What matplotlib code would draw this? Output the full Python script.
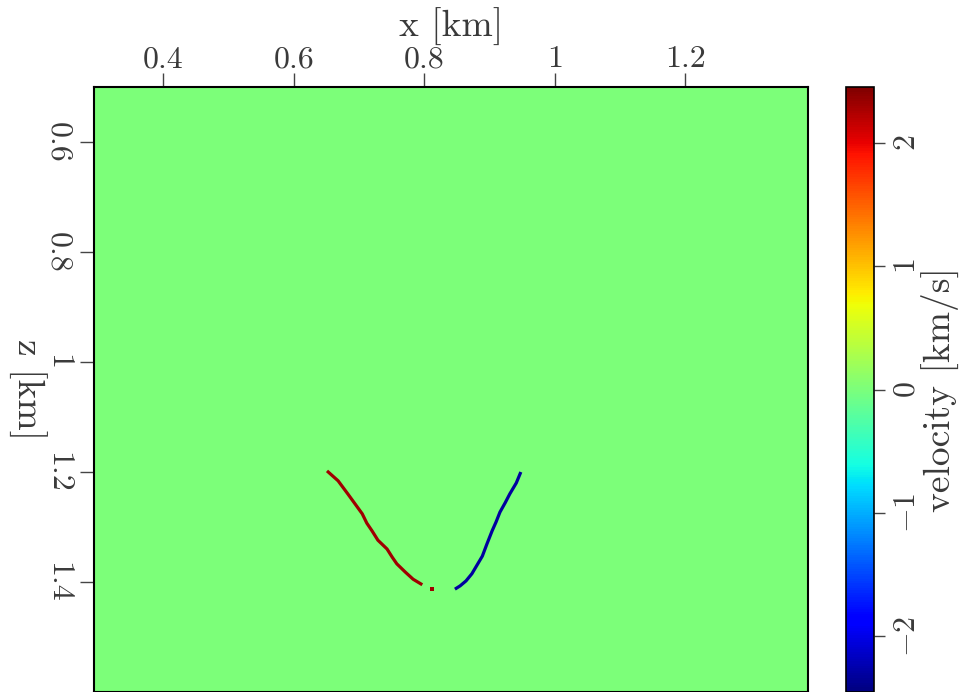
import numpy as np
import matplotlib
matplotlib.use("Agg")
import matplotlib.pyplot as plt
from matplotlib.colors import Normalize

# ── Data ────────────────────────────────────────────────────
x_range = [0.294, 1.388]        # km
z_range = [0.5, 1.6]            # km
background = np.zeros((4, 4))   # velocity perturbation away from the picks
v_lim = 2.45

# left branch (positive)
red_x = [0.651, 0.668, 0.683, 0.694, 0.705, 0.712, 0.720, 0.729, 0.743,
         0.751, 0.758, 0.771, 0.783, 0.797]
red_z = [1.198, 1.216, 1.240, 1.258, 1.276, 1.293, 1.307, 1.324, 1.340,
         1.355, 1.367, 1.382, 1.395, 1.405]
red_v = 2.3
red_end = (0.812, 1.413)

# right branch (negative)
blue_x = [0.948, 0.941, 0.931, 0.924, 0.916, 0.910, 0.904, 0.896, 0.889,
          0.881, 0.873, 0.864, 0.855, 0.847]
blue_z = [1.200, 1.220, 1.240, 1.256, 1.273, 1.291, 1.307, 1.331, 1.353,
          1.369, 1.385, 1.398, 1.407, 1.413]
blue_v = -2.3

x_ticks = [0.4, 0.6, 0.8, 1.0, 1.2]
z_ticks = [0.6, 0.8, 1.0, 1.2, 1.4]
cb_ticks = [-2, -1, 0, 1, 2]

# ── Style ───────────────────────────────────────────────────
plt.rcParams['font.family'] = 'serif'
plt.rcParams['font.serif'] = ['cmr10', 'DejaVu Serif']
plt.rcParams['mathtext.fontset'] = 'cm'
plt.rcParams['axes.formatter.use_mathtext'] = True
plt.rcParams['axes.unicode_minus'] = True

TXT = '#3a3a3a'
TICK_FS = 23
LAB_FS = 27

W, H = 960, 692
ax_l, ax_r, ax_t = 94, 808, 87
fig = plt.figure(figsize=(W / 100, H / 100), dpi=100)
ax = fig.add_axes([ax_l / W, 0.0, (ax_r - ax_l) / W, 1 - ax_t / H])
cax = fig.add_axes([846 / W, 0.0, (874 - 846) / W, 1 - ax_t / H])
ax_w, ax_h = ax_r - ax_l, H - ax_t

cmap = plt.get_cmap('jet')
norm = Normalize(-v_lim, v_lim)

im = ax.imshow(background, cmap=cmap, norm=norm, aspect='auto',
               extent=[x_range[0], x_range[1], z_range[1], z_range[0]])

ax.plot(red_x, red_z, color=cmap(norm(red_v)), lw=2.3,
        solid_capstyle='butt')
ax.plot(*red_end, 's', color=cmap(norm(red_v)), ms=3.2, mew=0)
ax.plot(blue_x, blue_z, color=cmap(norm(blue_v)), lw=2.3,
        solid_capstyle='butt')

ax.set_xlim(*x_range)
ax.set_ylim(z_range[1], z_range[0])

ax.xaxis.set_ticks_position('top')
ax.xaxis.set_label_position('top')
ax.set_xticks(x_ticks)
ax.set_xticklabels(['0.4', '0.6', '0.8', '1', '1.2'])
ax.set_yticks(z_ticks)
ax.set_yticklabels(['0.6', '0.8', '1', '1.2', '1.4'], rotation=-90,
                   va='center')
ax.tick_params(axis='both', labelsize=TICK_FS, length=10, width=1,
               color='#444444', labelcolor=TXT)
ax.tick_params(axis='x', pad=0)
ax.tick_params(axis='y', pad=6)

ax.set_xlabel('x [km]', fontsize=LAB_FS, color=TXT, va='center')
ax.xaxis.set_label_coords(0.5, 1 + (ax_t - 27) / ax_h)
ax.set_ylabel('z [km]', fontsize=LAB_FS, color=TXT, rotation=-90,
              va='center', ha='center')
ax.yaxis.set_label_coords((27 - ax_l) / ax_w, 0.5)
for s in ax.spines.values():
    s.set_linewidth(1.5)

cb = fig.colorbar(im, cax=cax, ticks=cb_ticks)
cb.outline.set_linewidth(1.2)
cax.tick_params(labelsize=TICK_FS, length=8, width=1, color='#444444',
                labelcolor=TXT, pad=6)
for lab in cax.get_yticklabels():
    lab.set_rotation(90)
    lab.set_va('center')
cb.set_label('velocity [km/s]', fontsize=LAB_FS, color=TXT, rotation=90,
             va='center', ha='center')
cax.yaxis.set_label_coords((940 - 846) / 28, 0.5)

fig.savefig('out.png', dpi=100)
